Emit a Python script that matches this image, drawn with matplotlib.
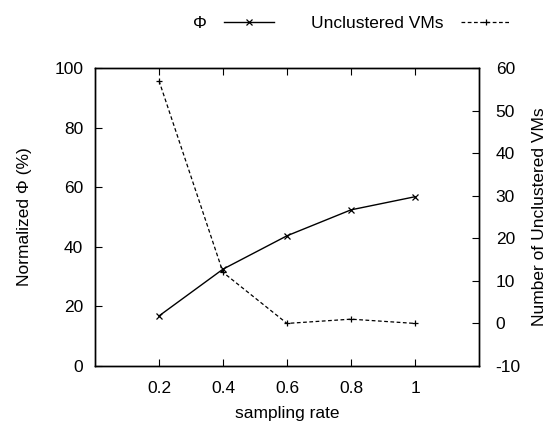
import matplotlib
matplotlib.use("Agg")
import matplotlib.pyplot as plt

sampling_rate = [0.2, 0.4, 0.6, 0.8, 1.0]
phi_values = [16.8, 32.5, 43.7, 52.4, 56.8]
unclustered_vms = [57, 12, 0, 1, 0]
x_ticks = [0.2, 0.4, 0.6, 0.8, 1.0]
x_tick_labels = ["0.2", "0.4", "0.6", "0.8", "1"]

plt.rcParams['font.family'] = ['Liberation Sans', 'DejaVu Sans']
plt.rcParams['font.size'] = 12.5
plt.rcParams['axes.unicode_minus'] = False

fig = plt.figure(figsize=(5.5, 4.22), dpi=100)
ax = fig.add_axes([95/550, 1-366/422, (479-95)/550, (366-68)/422])
ax2 = ax.twinx()

l1, = ax.plot(sampling_rate, phi_values, color='black', lw=1, marker='x', ms=5, mew=0.9, label='Φ')
l2, = ax2.plot(sampling_rate, unclustered_vms, color='black', lw=0.9, ls=(0, (3, 2)), marker='+', ms=5, mew=0.9, label='Unclustered VMs')

ax.set_xlim(0, 1.2)
ax.set_ylim(0, 100)
ax2.set_ylim(-10, 60)
ax.set_xticks(x_ticks)
ax.set_xticklabels(x_tick_labels)
ax.set_yticks([0, 20, 40, 60, 80, 100])
ax2.set_yticks([-10, 0, 10, 20, 30, 40, 50, 60])

ax.tick_params(axis='x', direction='in', top=True, length=5, width=0.8, pad=11)
ax.tick_params(axis='y', direction='in', length=5, width=0.8, pad=8.5)
ax2.tick_params(axis='y', direction='in', length=5, width=0.8, pad=12)

for a in (ax, ax2):
    for s in a.spines.values():
        s.set_linewidth(1.0)

ax.set_xlabel('sampling rate', labelpad=7)
ax.set_ylabel('Normalized Φ (%)', labelpad=16)
ax2.set_ylabel('Number of Unclustered VMs', labelpad=8)

fig.legend(handles=[l1, l2], loc='upper right', bbox_to_anchor=(511/550, 1-16/422),
           ncol=2, markerfirst=False, frameon=False, handlelength=2.9,
           columnspacing=2.1, handletextpad=1.0, borderaxespad=0, borderpad=0)

fig.savefig('out.png', dpi=100)
